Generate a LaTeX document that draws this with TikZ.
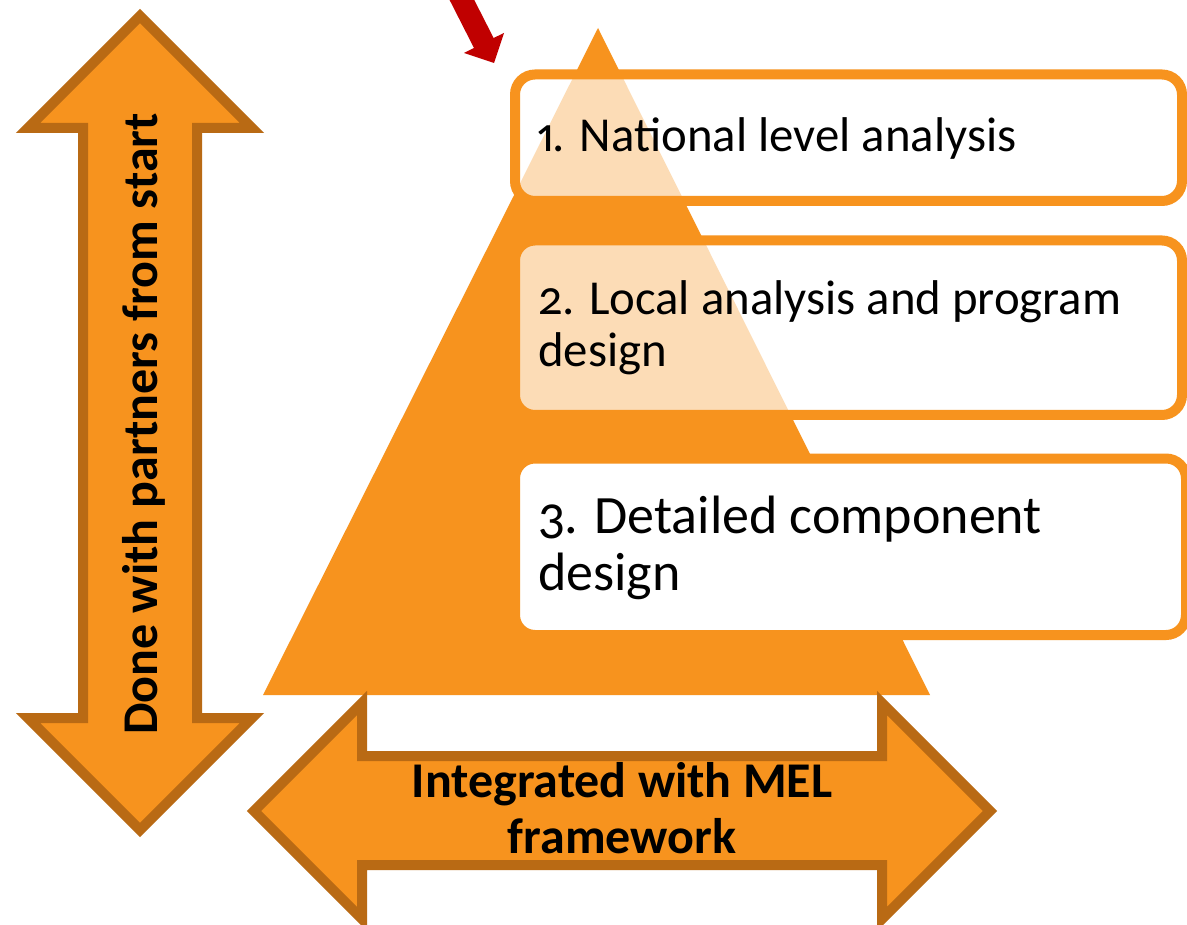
\documentclass[tikz,border=0pt]{standalone}
\usepackage{fontspec}
\setmainfont{Carlito}[Numbers={OldStyle,Proportional}]
\definecolor{pyr}{RGB}{247,147,30}
\definecolor{pyrline}{RGB}{185,106,20}
\definecolor{pyrlight}{RGB}{252,220,182}
\definecolor{pointer}{RGB}{192,0,0}
\begin{document}
\begin{tikzpicture}[x=1pt,y=-1pt,
  stagebox/.style={draw=pyr, line width=10pt, rounded corners=20pt},
  blockarrow/.style={fill=pyr, draw=pyrline, line width=10pt, line join=miter, miter limit=10},
  stagetext/.style={anchor=base west, inner sep=0pt, align=left, text=black},
  arrowtext/.style={inner sep=0pt, align=center, text=black, font=\bfseries\fontsize{50}{56}\selectfont}]

\fill[white] (0,0) rectangle (1187,925);
\useasboundingbox (0,0) rectangle (1187,925);

\begin{scope}
\clip (0,0) rectangle (1187,925);

% pyramid
\fill[pyr] (598,28) -- (930,695) -- (263,695) -- cycle;

% stage 1 box, pyramid shows through lightly
\fill[white, rounded corners=20pt] (515,74.5) rectangle (1182,201);
\begin{scope}
  \clip[rounded corners=20pt] (515,74.5) rectangle (1182,201);
  \fill[pyrlight] (598,28) -- (930,695) -- (263,695) -- cycle;
\end{scope}
\draw[stagebox] (515,74.5) rectangle (1182,201);

% stage 2 box
\fill[white, rounded corners=20pt] (515,240.5) rectangle (1182,415);
\begin{scope}
  \clip[rounded corners=20pt] (515,240.5) rectangle (1182,415);
  \fill[pyrlight] (598,28) -- (930,695) -- (263,695) -- cycle;
\end{scope}
\draw[stagebox] (515,240.5) rectangle (1182,415);

% stage 3 box
\draw[stagebox, fill=white] (515,458.5) rectangle (1186,635);

% vertical double arrow
\draw[blockarrow] (140,16) -- (252,128) -- (197,128) -- (197,718) -- (252,718)
  -- (140,830) -- (28,718) -- (83,718) -- (83,128) -- (28,128) -- cycle;

% horizontal double arrow
\draw[blockarrow] (254,811) -- (362,703) -- (362,756) -- (882,756) -- (882,703)
  -- (990,811) -- (882,919) -- (882,865) -- (362,865) -- (362,919) -- cycle;

% red pointer
\fill[pointer] (494,63) -- (504,33) -- (493.6,38) -- (466.4,-15.5) -- (446.8,-5.5)
  -- (474,48) -- (464,53) -- cycle;
\end{scope}

% labels (multi-line nodes sit on the baseline of their last line)
\node[stagetext, font=\fontsize{48.8}{52}\selectfont] (s1) at (537,152) {1. National level analysis};
\node[stagetext, font=\fontsize{48.8}{52}\selectfont] (s2) at (538,367) {2. Local analysis and program\\design};
\node[stagetext, font=\fontsize{54}{57}\selectfont] (s3) at (538,590) {3. Detailed component\\design};
\node[arrowtext, anchor=base, rotate=90] (vt) at (157,424) {Done with partners from start};
\node[arrowtext, anchor=base] (ht) at (622,853) {Integrated with MEL\\framework};
\end{tikzpicture}
\end{document}
